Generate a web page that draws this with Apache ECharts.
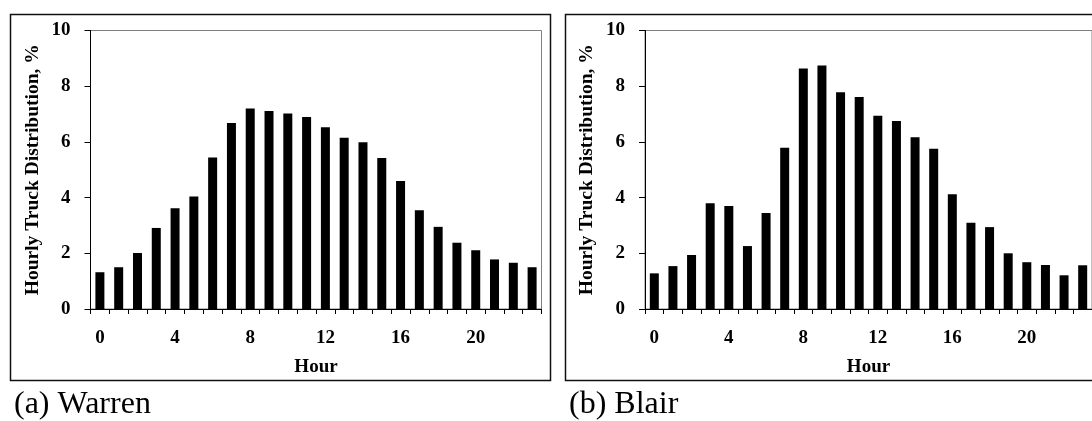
<!DOCTYPE html>
<html>
<head>
<meta charset="utf-8">
<script src="https://cdn.jsdelivr.net/npm/echarts@6/dist/echarts.min.js"></script>
<style>
html,body{margin:0;padding:0;background:#fff;}
#chart{width:1092px;height:421px;}
</style>
</head>
<body>
<div id="chart"></div>
<script>
const hours = ['0','1','2','3','4','5','6','7','8','9','10','11','12','13','14','15','16','17','18','19','20','21','22','23'];
const warren = [1.32,1.50,2.01,2.91,3.62,4.04,5.44,6.68,7.20,7.11,7.02,6.89,6.53,6.15,5.99,5.42,4.60,3.55,2.95,2.38,2.11,1.78,1.66,1.50];
const blair = [1.28,1.54,1.94,3.80,3.70,2.26,3.45,5.79,8.64,8.74,7.78,7.61,6.94,6.75,6.17,5.75,4.12,3.10,2.94,2.00,1.68,1.58,1.21,1.57];
const yTicks = [0,2,4,6,8,10];
const captions = ['(a) Warren','(b) Blair'];
const yName = 'Hourly Truck Distribution, %';
const xName = 'Hour';

const FONT = '"Liberation Serif", "Times New Roman", serif';
const chart = echarts.init(document.getElementById('chart'), null, {renderer:'canvas'});

function xAxis(gi){
  return {
    type:'category', gridIndex:gi, data:hours, boundaryGap:true,
    name:xName, nameLocation:'middle', nameGap:49,
    nameTextStyle:{fontFamily:FONT, fontWeight:'bold', fontSize:19, color:'#000'},
    axisLine:{show:true, lineStyle:{color:'#000', width:1}},
    axisTick:{show:true, interval:0, length:5, inside:false, lineStyle:{color:'#000'}},
    axisLabel:{interval:3, margin:20, fontFamily:FONT, fontWeight:'bold', fontSize:19, color:'#000'},
    splitLine:{show:false}
  };
}
function yAxis(gi){
  return {
    type:'value', gridIndex:gi, min:yTicks[0], max:yTicks[yTicks.length-1], interval:2,
    name:yName, nameLocation:'middle', nameGap:48, nameRotate:90,
    nameTextStyle:{fontFamily:FONT, fontWeight:'bold', fontSize:19.5, color:'#000'},
    axisLine:{show:true, lineStyle:{color:'#000', width:1}},
    axisTick:{show:true, length:6, inside:false, lineStyle:{color:'#000'}},
    axisLabel:{margin:20, fontFamily:FONT, fontWeight:'bold', fontSize:19, color:'#000'},
    splitLine:{show:false}
  };
}

chart.setOption({
  animation:false,
  backgroundColor:'#fff',
  grid:[
    {left:90.5, top:30.5, width:451, height:278.5, show:true, borderColor:'#808080', borderWidth:1, containLabel:false},
    {left:645, top:30.5, width:451, height:278.5, show:true, borderColor:'#808080', borderWidth:1, containLabel:false}
  ],
  xAxis:[xAxis(0), xAxis(1)],
  yAxis:[yAxis(0), yAxis(1)],
  series:[
    {type:'bar', xAxisIndex:0, yAxisIndex:0, data:warren, barWidth:9, itemStyle:{color:'#000'}},
    {type:'bar', xAxisIndex:1, yAxisIndex:1, data:blair, barWidth:9, itemStyle:{color:'#000'}}
  ],
  graphic:[
    {type:'rect', shape:{x:10.5, y:14.5, width:540, height:366}, style:{fill:'none', stroke:'#111', lineWidth:1.5}, silent:true},
    {type:'rect', shape:{x:565.5, y:14.5, width:600, height:366}, style:{fill:'none', stroke:'#111', lineWidth:1.5}, silent:true},
    {type:'text', x:14, y:405, style:{text:captions[0], font:'32px ' + FONT, fill:'#000', textAlign:'left', textVerticalAlign:'middle'}, silent:true},
    {type:'text', x:569, y:405, style:{text:captions[1], font:'32px ' + FONT, fill:'#000', textAlign:'left', textVerticalAlign:'middle'}, silent:true}
  ]
});
</script>
</body>
</html>
